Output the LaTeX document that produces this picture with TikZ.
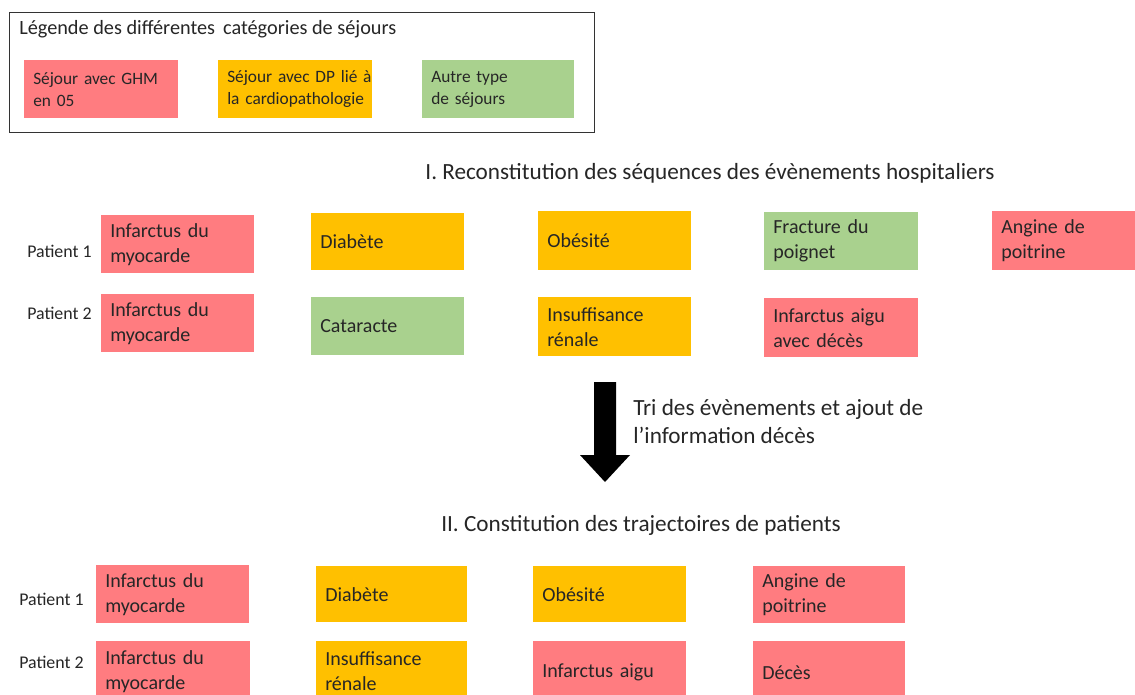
\documentclass[tikz,border=0pt]{standalone}
\usepackage{fontspec}
\setmainfont{Carlito}
\definecolor{cred}{HTML}{FF7C80}
\definecolor{corange}{HTML}{FFC000}
\definecolor{cgreen}{HTML}{A9D18E}
\newdimen\px \px=0.75pt
\hbadness=10000 \hfuzz=100pt
\tikzset{
  box/.style={anchor=north west, inner xsep=9\px, inner ysep=0pt, align=left,
    font=\fontsize{15}{18.75}\selectfont, text=black!85},
  lbox/.style={box, font=\fontsize{13}{16.5}\selectfont},
  plabel/.style={anchor=west, inner sep=0pt, font=\fontsize{13.4}{16}\selectfont, text=black!85},
  title/.style={inner sep=0pt, font=\fontsize{17.4}{21}\selectfont, text=black!85},
}
\newcommand{\bx}[7][box]{%
  \node[#1, fill=#6, minimum width=#4\px, minimum height=#5\px, text width={(#4-18)*0.75pt}] (#2) at (#3) {#7};}
\begin{document}
\begin{tikzpicture}[x=0.75pt,y=-0.75pt]
\clip (0,0) rectangle (1135,695);
\fill[white] (0,0) rectangle (1135,695);
% legend
\node[draw=black!80, line width=1\px, minimum width=585\px, minimum height=120\px, anchor=north west, inner sep=0pt] (legend) at (9,12) {};
\node[plabel, anchor=west, font=\fontsize{15.2}{18}\selectfont] (legtitle) at (19,29) {Légende des différentes\, catégories de séjours};
\bx[lbox]{l1}{24,60}{154}{58}{cred}{\mbox{Séjour avec GHM}\\\mbox{en 05}}
\bx[lbox]{l2}{218,60}{154}{58}{corange}{\mbox{Séjour avec DP lié à}\\\mbox{la cardiopathologie}}
\bx[lbox]{l3}{422,60}{152}{58}{cgreen}{\mbox{Autre type}\\\mbox{de séjours}}
% section I
\node[title] (t1) at (710,173) {I. Reconstitution des séquences des évènements hospitaliers};
\node[plabel] (p1a) at (27,251) {Patient 1};
\node[plabel] (p2a) at (27,313) {Patient 2};
\bx{a1}{101,215}{153}{58}{cred}{Infarctus du\\myocarde}
\bx{a2}{311,213}{153}{57}{corange}{Diabète}
\bx{a3}{538,211}{153}{59}{corange}{Obésité}
\bx{a4}{764,212}{154}{58}{cgreen}{Fracture du\\poignet}
\bx{a5}{992,211}{160}{59}{cred}{Angine de\\poitrine}
\bx{b1}{101,294}{153}{58}{cred}{Infarctus du\\myocarde}
\bx{b2}{311,297}{153}{58}{cgreen}{Cataracte}
\bx{b3}{538,297}{153}{59}{corange}{Insuffisance\\rénale}
\bx{b4}{764,298}{154}{59}{cred}{Infarctus aigu\\avec décès}
% arrow
\fill[black] (594,382) -- (616,382) -- (616,455) -- (630,455) -- (605,482) -- (580,455) -- (594,455) -- cycle;
\node[title, anchor=west, align=left] (arrlab) at (633,422) {Tri des évènements et ajout de\\l’information décès};
% section II
\node[title] (t2) at (641,525) {II. Constitution des trajectoires de patients};
\node[plabel] (p1b) at (19,599) {Patient 1};
\node[plabel] (p2b) at (19,662) {Patient 2};
\bx{c1}{96,565}{153}{58}{cred}{Infarctus du\\myocarde}
\bx{c2}{316,566}{151}{56}{corange}{Diabète}
\bx{c3}{533,566}{153}{56}{corange}{Obésité}
\bx{c4}{753,566}{152}{57}{cred}{Angine de\\poitrine}
\bx{d1}{96,641}{154}{60}{cred}{Infarctus du\\myocarde}
\bx{d2}{316,641}{151}{60}{corange}{Insuffisance\\rénale}
\bx{d3}{533,641}{153}{63}{cred}{Infarctus aigu}
\bx{d4}{753,641}{152}{63}{cred}{Décès}
\fill[cred] (96,695) rectangle (250,701);
\fill[corange] (316,695) rectangle (467,701);
\end{tikzpicture}
\end{document}
